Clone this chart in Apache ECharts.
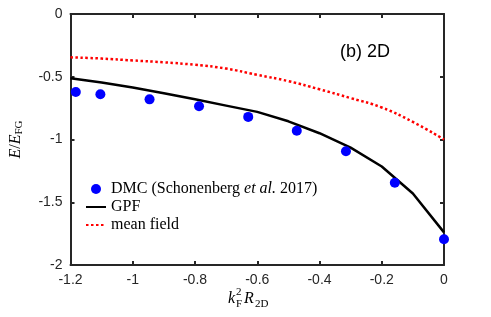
<!DOCTYPE html>
<html>
<head>
<meta charset="utf-8">
<script src="https://cdn.jsdelivr.net/npm/echarts@6/dist/echarts.min.js"></script>
<style>html,body{margin:0;padding:0;background:#fff}#c{width:491px;height:317px}</style>
</head>
<body>
<div id="c"></div>
<script>
// ---- data ----
const dmcX = [-1.183, -1.104, -0.946, -0.787, -0.629, -0.473, -0.315, -0.158, 0];
const dmcY = [-0.622, -0.640, -0.680, -0.735, -0.820, -0.930, -1.094, -1.344, -1.795];
const gpfX = [-1.2, -1.1, -1.0, -0.9, -0.8, -0.7, -0.6, -0.5, -0.4, -0.3, -0.2, -0.1, 0];
const gpfY = [-0.512, -0.545, -0.585, -0.632, -0.680, -0.730, -0.780, -0.855, -0.950, -1.065, -1.215, -1.430, -1.740];
const mfX = [-1.2, -1.1, -1.0, -0.9, -0.8, -0.7, -0.6, -0.5, -0.4, -0.3, -0.2, -0.1, 0];
const mfY = [-0.345, -0.355, -0.370, -0.385, -0.405, -0.435, -0.485, -0.535, -0.600, -0.670, -0.745, -0.860, -1.000];
const xTicks = [-1.2, -1, -0.8, -0.6, -0.4, -0.2, 0];
const yTicks = [-2, -1.5, -1, -0.5, 0];
const seriesNames = ['DMC (Schonenberg et al. 2017)', 'GPF', 'mean field'];
const panelLabel = '(b) 2D';

const zip = (a, b) => a.map((v, i) => [v, b[i]]);
const axisColor = '#262626';
const sans = 'Liberation Sans';
const serif = 'Liberation Serif';

const baseX = {
  type: 'value', min: xTicks[0], max: xTicks[xTicks.length - 1], interval: 0.2,
  axisLine: { show: true, onZero: false, lineStyle: { color: axisColor, width: 2 } },
  axisTick: { show: true, inside: true, length: 4, lineStyle: { color: axisColor, width: 2 } },
  splitLine: { show: false }
};
const baseY = {
  type: 'value', min: yTicks[0], max: yTicks[yTicks.length - 1], interval: 0.5,
  axisLine: { show: true, onZero: false, lineStyle: { color: axisColor, width: 2 } },
  axisTick: { show: true, inside: true, length: 4, lineStyle: { color: axisColor, width: 2 } },
  splitLine: { show: false }
};

const chart = echarts.init(document.getElementById('c'), null, { renderer: 'canvas' });
chart.setOption({
  animation: false,
  backgroundColor: '#fff',
  grid: { left: 64.5, right: 47, top: 14, bottom: 52, containLabel: false },
  title: {
    text: panelLabel, left: 335, top: 38,
    textStyle: { fontFamily: sans, fontSize: 18, fontWeight: 'normal', color: '#000' }
  },
  legend: {
    orient: 'vertical', left: 85, top: 181, padding: 0,
    itemWidth: 20, itemHeight: 10, itemGap: 2,
    data: [
      { name: seriesNames[0], icon: 'circle', itemStyle: { opacity: 1 } },
      { name: seriesNames[1], itemStyle: { opacity: 0 } },
      { name: seriesNames[2], itemStyle: { opacity: 0 } }
    ],
    formatter: function (name) {
      if (name === seriesNames[0]) return '{n|DMC (Schonenberg }{i|et al.}{n| 2017)}';
      return '{n|' + name + '}';
    },
    textStyle: {
      fontFamily: serif, fontSize: 16, color: '#000', lineHeight: 14,
      rich: {
        n: { fontFamily: serif, fontSize: 16, color: '#000', lineHeight: 14 },
        i: { fontFamily: serif, fontSize: 16, fontStyle: 'italic', color: '#000', lineHeight: 14 }
      }
    }
  },
  xAxis: [
    Object.assign({}, baseX, {
      position: 'bottom',
      axisLabel: { show: true, margin: 8, fontFamily: sans, fontSize: 14, color: axisColor,
        formatter: v => String(parseFloat(v.toFixed(2))) }
    }),
    Object.assign({}, baseX, { position: 'top', axisLabel: { show: false } })
  ],
  yAxis: [
    Object.assign({}, baseY, {
      position: 'left',
      axisLabel: { show: true, margin: 8, fontFamily: sans, fontSize: 14, color: axisColor,
        formatter: v => String(parseFloat(v.toFixed(2))) },
      name: '{i|E}{n|/}{i|E}{s|FG}', nameLocation: 'middle', nameGap: 46, nameRotate: 90,
      nameTextStyle: {
        rich: {
          i: { fontFamily: serif, fontStyle: 'italic', fontSize: 16, color: '#000' },
          n: { fontFamily: serif, fontSize: 16, color: '#000' },
          s: { fontFamily: serif, fontSize: 11, color: '#000', padding: [6, 0, 0, 0] }
        }
      }
    }),
    Object.assign({}, baseY, { position: 'right', axisLabel: { show: false } })
  ],
  graphic: [
    { type: 'text', left: 228, top: 291, style: { text: 'k', font: 'italic 16px "Liberation Serif"', fill: '#000' } },
    { type: 'text', left: 236, top: 287, style: { text: '2', font: '11px "Liberation Serif"', fill: '#000' } },
    { type: 'text', left: 236, top: 299, style: { text: 'F', font: '11px "Liberation Serif"', fill: '#000' } },
    { type: 'text', left: 244, top: 291, style: { text: 'R', font: 'italic 16px "Liberation Serif"', fill: '#000' } },
    { type: 'text', left: 255, top: 299, style: { text: '2D', font: '11px "Liberation Serif"', fill: '#000' } }
  ],
  series: [
    {
      name: seriesNames[2], type: 'line', smooth: true, symbol: 'none', z: 2,
      data: zip(mfX, mfY),
      lineStyle: { color: '#ff0000', width: 2.5, type: [2.5, 2.5] },
      itemStyle: { color: '#ff0000' }
    },
    {
      name: seriesNames[1], type: 'line', symbol: 'none', z: 3,
      data: zip(gpfX, gpfY),
      lineStyle: { color: '#000', width: 2.5 },
      itemStyle: { color: '#000' }
    },
    {
      name: seriesNames[0], type: 'scatter', symbol: 'circle', symbolSize: 10, z: 4,
      data: zip(dmcX, dmcY),
      itemStyle: { color: '#0000ff', opacity: 1 }
    }
  ]
});
</script>
</body>
</html>
